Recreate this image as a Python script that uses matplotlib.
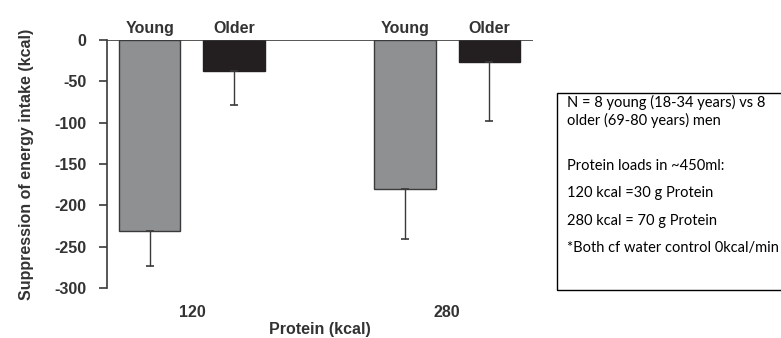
import matplotlib.pyplot as plt
from matplotlib.patches import Rectangle
import numpy as np

loads = ["120", "280"]
groups = ["Young", "Older"]
young_vals = [-231, -180]
young_err = [42, 61]
older_vals = [-37, -27]
older_err = [42, 71]
yticks = [0, -50, -100, -150, -200, -250, -300]

note_lines = ["N = 8 young (18-34 years) vs 8",
              "older (69-80 years) men",
              "Protein loads in ~450ml:",
              "120 kcal =30 g Protein",
              "280 kcal = 70 g Protein",
              "*Both cf water control 0kcal/min"]
note_y = [102, 120, 166, 193, 221, 248]  # pixel rows from the top

plt.rcParams['font.family'] = ['Liberation Sans', 'DejaVu Sans']
txt = '#333333'
fs = 11.5

fig = plt.figure(figsize=(7.81, 3.38), dpi=100)
ax = fig.add_axes([0.137, 0.148, 0.545, 0.7337])

x = np.arange(len(loads))
off = 0.165
w = 0.24
ax.bar(x - off, young_vals, w, color='#8e9092', edgecolor='#3a3a3a', linewidth=1)
ax.bar(x + off, older_vals, w, color='#231f20', edgecolor='#231f20', linewidth=1)
ax.errorbar(x - off, young_vals, yerr=[young_err, [0, 0]], fmt='none',
            ecolor='#3a3a3a', elinewidth=1, capsize=3, capthick=1.2)
ax.errorbar(x + off, older_vals, yerr=[older_err, [0, 0]], fmt='none',
            ecolor='#3a3a3a', elinewidth=1, capsize=3, capthick=1.2)
ax.axhline(0, color='#3a3a3a', lw=1.2)

for xi in x:
    ax.text(xi - off, 5, groups[0], ha='center', va='bottom', fontsize=fs,
            fontweight='bold', color=txt)
    ax.text(xi + off, 5, groups[1], ha='center', va='bottom', fontsize=fs,
            fontweight='bold', color=txt)

ax.set_xlim(-0.333, 1.335)
ax.set_ylim(-300, 0)
ax.set_yticks(yticks)
ax.set_yticklabels([str(t) for t in yticks], fontsize=fs, fontweight='bold', color=txt)
ax.set_xticks(x)
ax.set_xticklabels(loads, fontsize=fs, fontweight='bold', color=txt)
ax.tick_params(axis='x', length=0, pad=12)
ax.tick_params(axis='y', length=6, width=1.2, color='#3a3a3a', pad=9)
for s in ['top', 'right', 'bottom']:
    ax.spines[s].set_visible(False)
ax.spines['left'].set_color('#3a3a3a')
ax.spines['left'].set_linewidth(1.2)
ax.set_xlabel("Protein (kcal)", fontsize=fs, fontweight='bold', color=txt, labelpad=2)
ax.set_ylabel("Suppression of energy intake (kcal)", fontsize=fs, fontweight='bold',
              color=txt, labelpad=14)

# note box on the right
fig.patches.append(Rectangle((0.713, 0.142), 0.3, 0.583, transform=fig.transFigure,
                             fill=False, edgecolor='black', linewidth=1))
for line, yp in zip(note_lines, note_y):
    fig.text(0.726, 1 - yp / 338, line, ha='left', va='center', fontsize=10.5,
             family=['Lato', 'DejaVu Sans'], color='black')

fig.savefig("out.png", dpi=100)
